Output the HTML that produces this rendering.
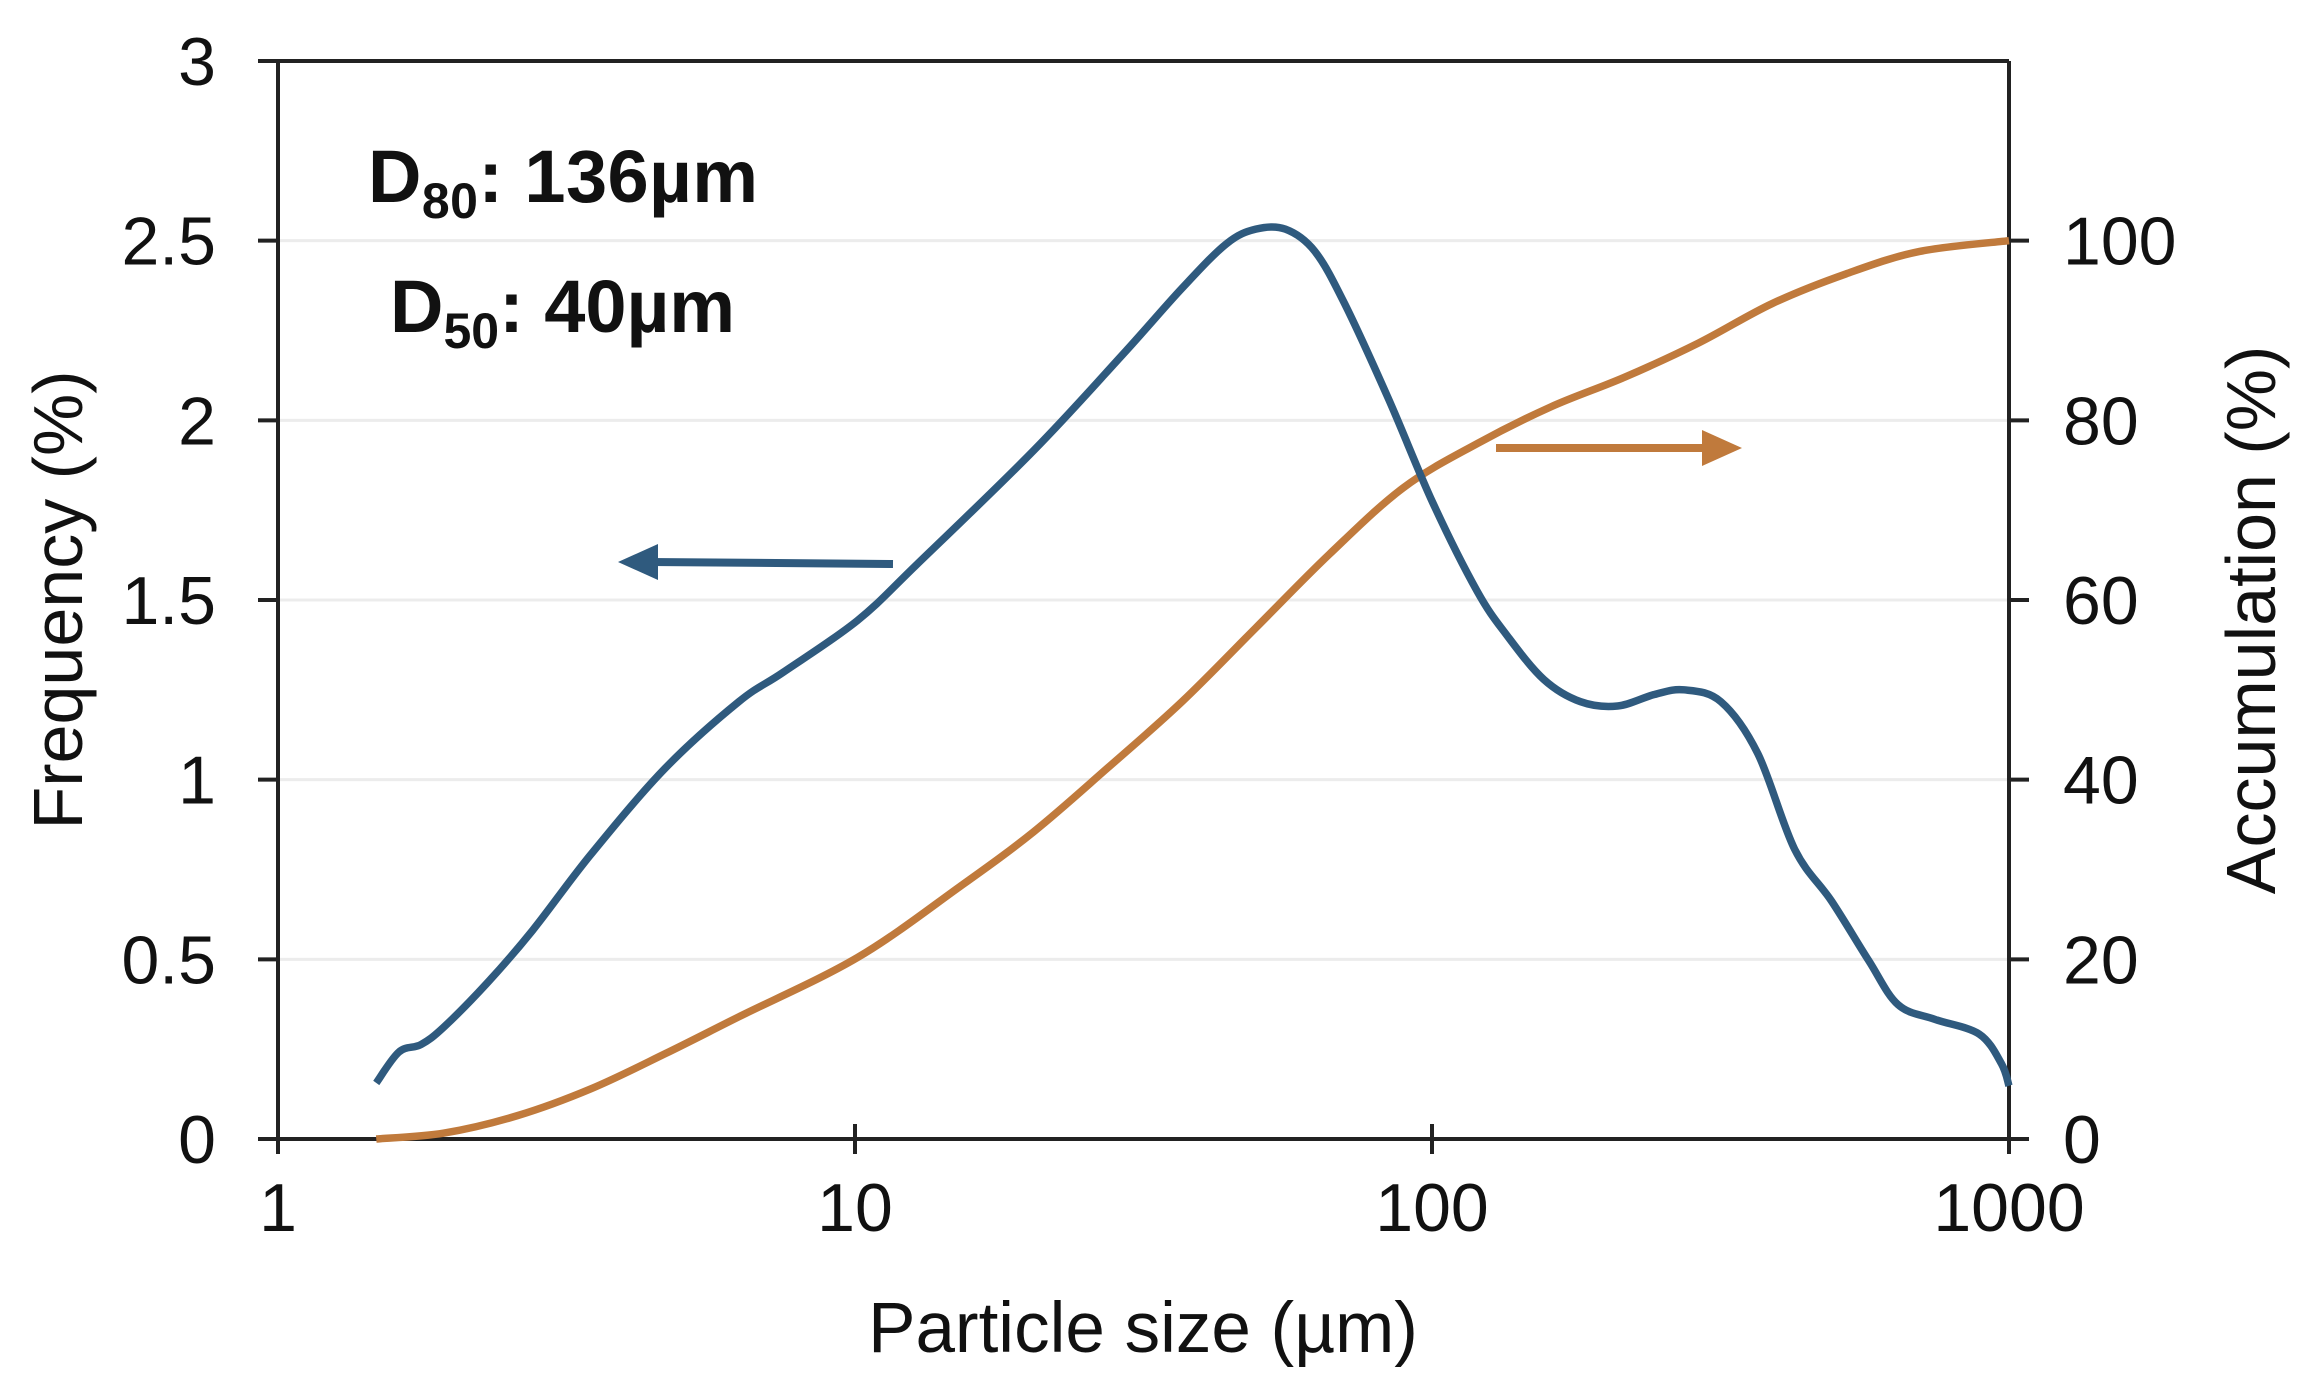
<!DOCTYPE html>
<html><head><meta charset="utf-8"><style>
html,body{margin:0;padding:0;background:#fff}
svg{display:block;font-family:"Liberation Sans",Arial,sans-serif}
</style></head><body>
<svg id="chart" width="2316" height="1384" viewBox="0 0 2316 1384" xmlns="http://www.w3.org/2000/svg">
<g id="grid"></g>
<g id="axes"></g>
<g id="series"></g>
<text transform="translate(82,600) rotate(-90)" text-anchor="middle" font-size="70" fill="#111">Frequency (%)</text>
<text transform="translate(2275,620) rotate(-90)" text-anchor="middle" font-size="70" fill="#111">Accumulation (%)</text>
<text x="1143" y="1352" text-anchor="middle" font-size="71" fill="#111">Particle size (µm)</text>
<text x="368" y="202" font-size="74" font-weight="bold" fill="#111" textLength="390">D<tspan font-size="50" dy="16">80</tspan><tspan dy="-16">: 136µm</tspan></text>
<text x="390" y="332" font-size="74" font-weight="bold" fill="#111">D<tspan font-size="50" dy="16">50</tspan><tspan dy="-16">: 40µm</tspan></text>
<g>
<line x1="893" y1="564" x2="650" y2="562" stroke="#2f5a7e" stroke-width="8"/>
<polygon points="618,562 658,544 658,580" fill="#2f5a7e"/>
</g>
<g>
<line x1="1496" y1="448" x2="1708" y2="448" stroke="#c07a3c" stroke-width="8"/>
<polygon points="1742,448 1702,430 1702,466" fill="#c07a3c"/>
</g>
</svg>
<script>
const freqSizes=[1.48,1.62,1.77,1.94,2.31,2.76,3.49,4.69,6.29,7.51,10.1,12.8,20.4,29.1,36.9,44.0,49.5,55.7,62.6,70.5,84.1,100.3,119.7,134.8,156.2,180.9,209.7,242.9,273.4,316.7,366.9,425.2,492.6,571,642,744,888,970,1000];
const freqValues=[0.156,0.242,0.263,0.312,0.436,0.580,0.793,1.032,1.217,1.299,1.443,1.599,1.916,2.183,2.368,2.491,2.532,2.532,2.471,2.326,2.059,1.771,1.525,1.402,1.279,1.217,1.205,1.237,1.250,1.217,1.073,0.806,0.662,0.497,0.374,0.333,0.292,0.210,0.148];
const accSizes=[1.48,1.94,2.60,3.49,4.69,6.29,10.1,15.2,20.4,27.4,36.9,49.5,66.4,89.2,119.7,160.7,215.7,289.6,388.7,521.7,700,1000];
const accValues=[0,0.66,2.6,5.6,9.5,13.6,20.2,28.1,34.2,41.3,48.7,56.9,65.1,72.5,77.4,81.5,84.8,88.6,93.0,96.3,98.8,100];
const leftTicks=["0","0.5","1","1.5","2","2.5","3"];
const rightTicks=["0","20","40","60","80","100"];
const xTicks=["1","10","100","1000"];

const NS="http://www.w3.org/2000/svg";
const L=278,R=2009,T=61,B=1139;
const xs=v=>L+(Math.log10(v)-0)/3*(R-L);
const yl=v=>B-v/3*(B-T);
const yr=v=>B-v/120*(B-T);
function mk(tag,attrs,parent){const e=document.createElementNS(NS,tag);for(const k in attrs)e.setAttribute(k,attrs[k]);parent.appendChild(e);return e;}
const grid=document.getElementById('grid'),axes=document.getElementById('axes'),series=document.getElementById('series');
leftTicks.forEach(t=>{const v=parseFloat(t),y=yl(v);
 if(v>0&&v<3){const g=mk('line',{x1:L,x2:R,y1:y,y2:y,stroke:'#ececec','stroke-width':3},grid);
 
 }
 const tk=mk('line',{x1:L-20,x2:L,y1:y,y2:y,stroke:'#222','stroke-width':4},axes);
 
 
 const tx=mk('text',{x:L-62,y:y+24,'text-anchor':'end','font-size':68,fill:'#111'},axes);tx.textContent=t;
 
 
});
rightTicks.forEach(t=>{const y=yr(parseFloat(t));
 const tk=mk('line',{x1:R,x2:R+20,y1:y,y2:y,stroke:'#222','stroke-width':4},axes);
 
 
 const tx=mk('text',{x:R+54,y:y+24,'font-size':68,fill:'#111'},axes);tx.textContent=t;
 
 
});
xTicks.forEach(t=>{const x=xs(parseFloat(t));
 const tk=mk('line',{x1:x,x2:x,y1:B-15,y2:B+15,stroke:'#222','stroke-width':4},axes);
 
 
 const tx=mk('text',{x:x,y:B+92,'text-anchor':'middle','font-size':68,fill:'#111'},axes);tx.textContent=t;
 
 
});
const la=mk('line',{x1:L,x2:L,y1:T,y2:B,stroke:'#222','stroke-width':4},axes);


const ra=mk('line',{x1:R,x2:R,y1:T,y2:B,stroke:'#222','stroke-width':4},axes);


const ta=mk('line',{x1:L-20,x2:R,y1:T,y2:T,stroke:'#222','stroke-width':4},axes);


const ba=mk('line',{x1:L-20,x2:R+20,y1:B,y2:B,stroke:'#222','stroke-width':4},axes);


function smooth(pts){let d=`M${pts[0][0]},${pts[0][1]}`;
 for(let i=0;i<pts.length-1;i++){const p0=pts[i-1]||pts[i],p1=pts[i],p2=pts[i+1],p3=pts[i+2]||p2;
 d+=` C${p1[0]+(p2[0]-p0[0])/6},${p1[1]+(p2[1]-p0[1])/6} ${p2[0]-(p3[0]-p1[0])/6},${p2[1]-(p3[1]-p1[1])/6} ${p2[0]},${p2[1]}`;}
 return d;}
const ap=mk('path',{d:smooth(accSizes.map((s,i)=>[xs(s),yr(accValues[i])])),fill:'none',stroke:'#c07a3c','stroke-width':7.5,'stroke-linejoin':'round'},series);


const fp=mk('path',{d:smooth(freqSizes.map((s,i)=>[xs(s),yl(freqValues[i])])),fill:'none',stroke:'#2f5a7e','stroke-width':7.5,'stroke-linejoin':'round'},series);


</script>
</body></html>
